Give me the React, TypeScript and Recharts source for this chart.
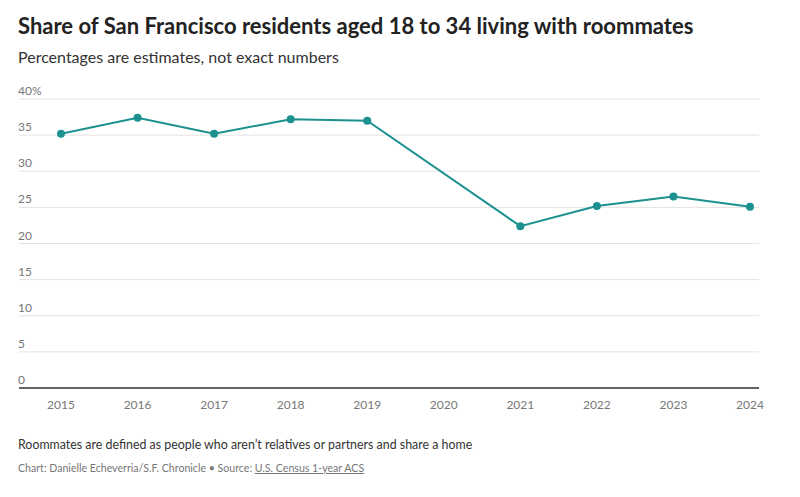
import React from 'react';
import { LineChart, Line, XAxis, YAxis, CartesianGrid } from 'recharts';

// Share of SF residents aged 18-34 living with roommates (ACS 1-year)
const years = ['2015', '2016', '2017', '2018', '2019', '2020', '2021', '2022', '2023', '2024'];
const shares: (number | null)[] = [35.2, 37.4, 35.2, 37.2, 37.0, null, 22.4, 25.2, 26.5, 25.1];
const yTicks = [0, 5, 10, 15, 20, 25, 30, 35, 40];

const data = years.map((year, i) => ({ year, share: shares[i] }));

const TEAL = '#1c9190';
const FONT = 'Lato, "Open Sans", sans-serif';

const renderYTick = (props: any) => {
  const { y, payload } = props;
  const v = payload.value;
  return (
    <text x={18} y={y - 4} fill="#777" fontSize={12} fontFamily={FONT} textAnchor="start">
      {v === 40 ? '40%' : String(v)}
    </text>
  );
};

export default function App() {
  return (
    <div
      style={{
        position: 'absolute',
        left: 0,
        top: 0,
        width: 800,
        height: 497,
        background: '#fff',
        fontFamily: FONT,
      }}
    >
      <div
        style={{
          position: 'absolute',
          left: 18,
          top: 12,
          fontSize: 22,
          fontWeight: 700,
          color: '#222',
          whiteSpace: 'nowrap',
        }}
      >
        Share of San Francisco residents aged 18 to 34 living with roommates
      </div>
      <div
        style={{ position: 'absolute', left: 18, top: 47, fontSize: 16, color: '#333', whiteSpace: 'nowrap' }}
      >
        Percentages are estimates, not exact numbers
      </div>

      <div style={{ position: 'absolute', left: 0, top: 0 }}>
        <LineChart width={800} height={420} data={data} margin={{ top: 99, right: 41, bottom: 2, left: 18 }}>
          <CartesianGrid horizontal vertical={false} stroke="#e3e3e3" strokeWidth={1} />
          <XAxis
            dataKey="year"
            height={30}
            padding={{ left: 42, right: 9 }}
            axisLine={{ stroke: '#333', strokeWidth: 1.5 }}
            tickLine={false}
            tick={{ fill: '#777', fontSize: 12, fontFamily: FONT }}
            tickMargin={6}
          />
          <YAxis
            width={1}
            domain={[0, 40]}
            ticks={yTicks}
            interval={0}
            axisLine={false}
            tickLine={false}
            tick={renderYTick}
          />
          <Line
            type="linear"
            dataKey="share"
            stroke={TEAL}
            strokeWidth={2}
            connectNulls
            dot={{ r: 4, fill: TEAL, stroke: TEAL, strokeWidth: 0 }}
            isAnimationActive={false}
          />
        </LineChart>
      </div>

      <div
        style={{ position: 'absolute', left: 18, top: 437, fontSize: 12.4, color: '#333', whiteSpace: 'nowrap' }}
      >
        Roommates are defined as people who aren’t relatives or partners and share a home
      </div>
      <div
        style={{ position: 'absolute', left: 18, top: 462, fontSize: 10.6, color: '#777', whiteSpace: 'nowrap' }}
      >
        Chart: Danielle Echeverria/S.F. Chronicle • Source:{' '}
        <span style={{ textDecoration: 'underline' }}>U.S. Census 1-year ACS</span>
      </div>
    </div>
  );
}
